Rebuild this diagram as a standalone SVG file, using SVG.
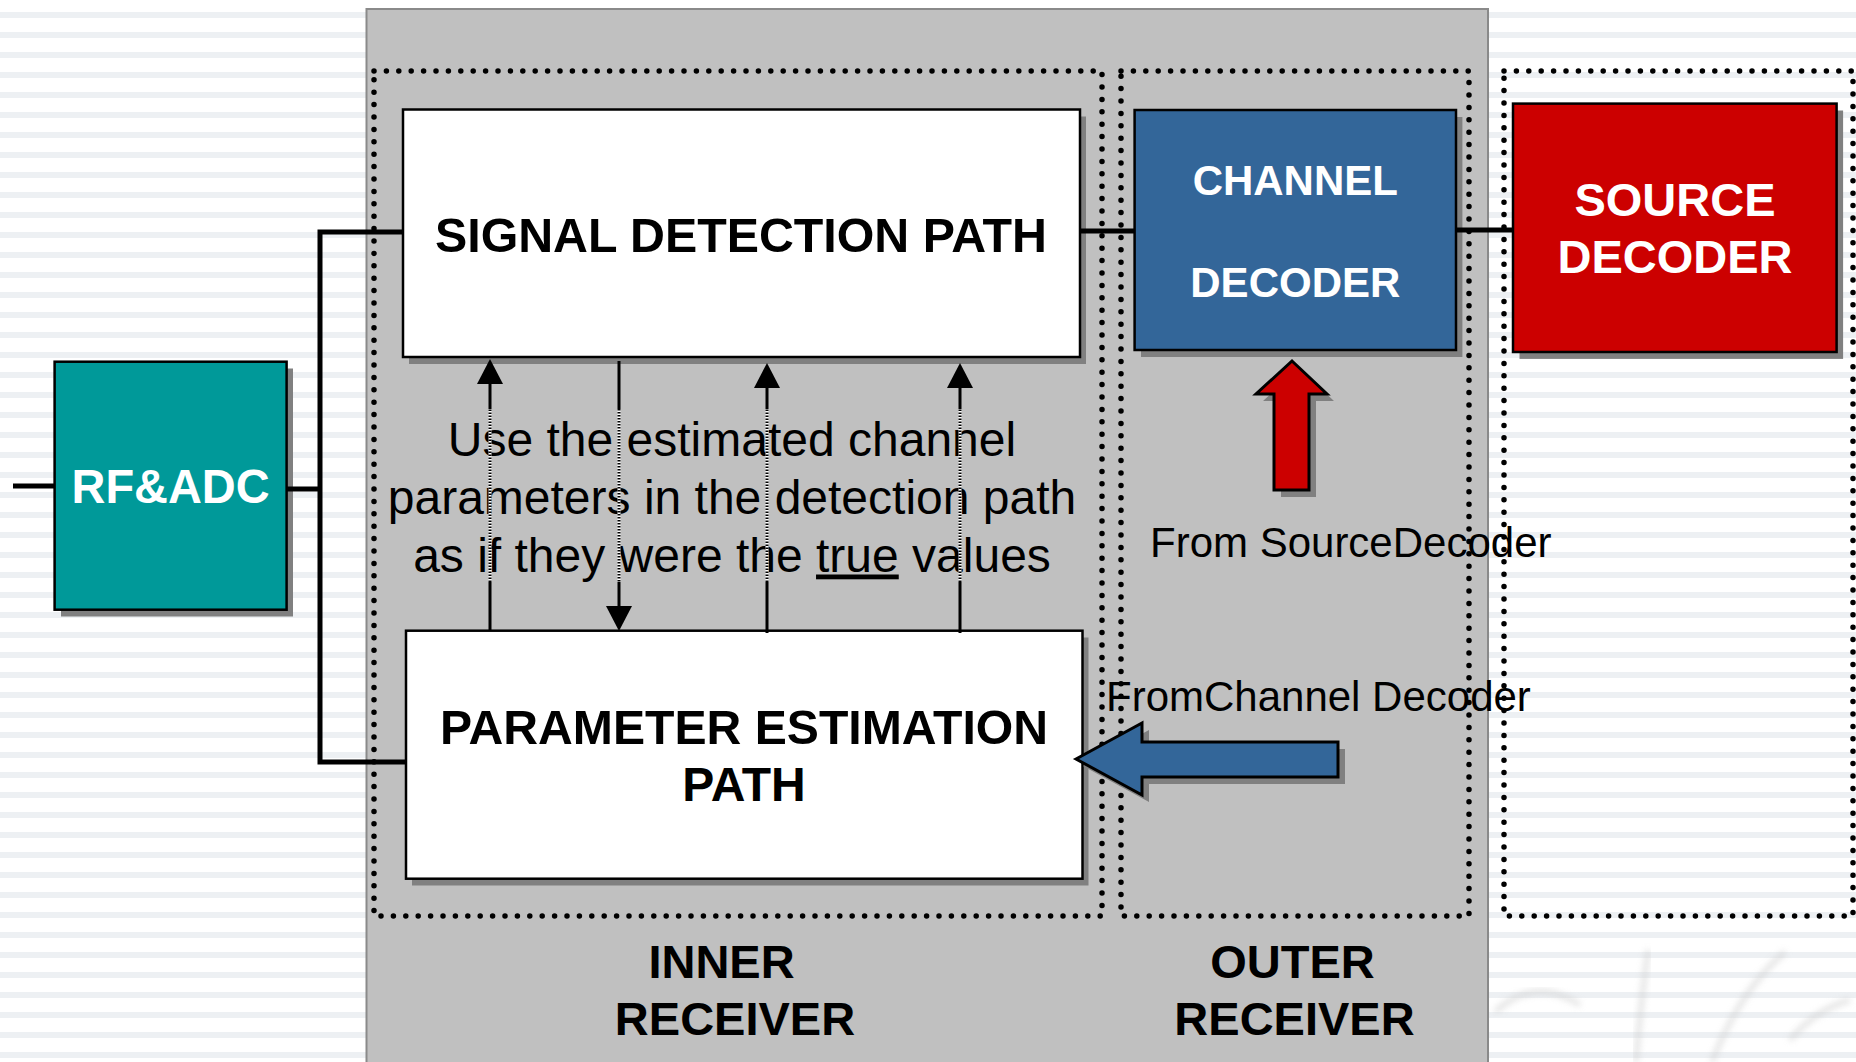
<svg xmlns="http://www.w3.org/2000/svg" width="1856" height="1062" viewBox="0 0 1856 1062">
<defs>
<pattern id="stripes" width="20" height="20" patternUnits="userSpaceOnUse">
<rect width="20" height="20" fill="#ffffff"/>
<rect y="12" width="20" height="6" fill="#edf0f3"/>
</pattern>
<marker id="ah" viewBox="0 0 25 26" refX="0" refY="13" markerWidth="25" markerHeight="26" markerUnits="userSpaceOnUse" orient="auto">
<path d="M0,0 L25,13 L0,26 z" fill="#000"/>
</marker>
<filter id="blur" x="-20%" y="-20%" width="140%" height="140%"><feGaussianBlur stdDeviation="3"/></filter>
</defs>
<style>
.t { font-family: "Liberation Sans", Arial, sans-serif; }
.b { font-weight: bold; }
.box { stroke: #000; stroke-width: 2.5; }
.shadow { fill: #808080; }
.dots { fill: none; stroke: #000; stroke-width: 5.5; stroke-dasharray: 0 12.4; stroke-linecap: round; }
.wire { stroke: #000; stroke-width: 5; fill: none; }
.arr { stroke: #000; stroke-width: 3; fill: none; }
.under { stroke: #ffffff; stroke-width: 3; }
.dash { stroke: #000; stroke-width: 3; stroke-dasharray: 1.5 1.5; }
.ghost { fill: none; stroke: #cfcfcf; stroke-width: 5; opacity: 0.6; filter: url(#blur); }
</style>

<!-- background -->
<rect x="0" y="0" width="1856" height="1062" fill="url(#stripes)"/>
<g id="watermark">
<path class="ghost" d="M1495,1012 Q1535,975 1580,1005"/>
<path class="ghost" d="M1648,950 Q1640,1010 1636,1062"/>
<path class="ghost" d="M1712,1062 Q1740,990 1785,952"/>
<path class="ghost" d="M1790,1040 Q1815,1010 1850,1000"/>
</g>

<!-- receiver panel -->
<rect id="receiver-panel" x="366.5" y="9" width="1121.5" height="1060" fill="#c0c0c0" stroke="#8a8a8a" stroke-width="2"/>

<!-- dotted groupings -->
<g id="groups">
<rect id="inner-receiver-box" class="dots" x="374" y="71" width="728" height="845"/>
<rect id="outer-receiver-box" class="dots" x="1121" y="71" width="348" height="845"/>
<rect id="source-box" class="dots" x="1504" y="71" width="349" height="845"/>
</g>

<!-- nodes -->
<g id="rf-adc">
<rect class="shadow" x="61" y="368.5" width="232" height="248"/>
<rect class="box" x="54.6" y="361.7" width="232" height="248" fill="#009999"/>
<text class="t b" x="170.6" y="502.5" font-size="48" fill="#ffffff" text-anchor="middle" textLength="198" lengthAdjust="spacingAndGlyphs">RF&amp;ADC</text>
</g>

<g id="signal-detection">
<rect class="shadow" x="409" y="116.5" width="677" height="247.5"/>
<rect class="box" x="403" y="109.5" width="677" height="247.5" fill="#ffffff"/>
<text class="t b" x="741" y="251.5" font-size="48" fill="#000" text-anchor="middle" textLength="612" lengthAdjust="spacingAndGlyphs">SIGNAL DETECTION PATH</text>
</g>

<g id="parameter-estimation">
<rect class="shadow" x="412" y="637.5" width="676.5" height="248"/>
<rect class="box" x="406" y="630.7" width="676.5" height="248" fill="#ffffff"/>
<text class="t b" x="744" y="743.5" font-size="48" fill="#000" text-anchor="middle" textLength="608" lengthAdjust="spacingAndGlyphs">PARAMETER ESTIMATION</text>
<text class="t b" x="744" y="800.5" font-size="48" fill="#000" text-anchor="middle">PATH</text>
</g>

<g id="channel-decoder">
<rect class="shadow" x="1141" y="117" width="321.4" height="240"/>
<rect class="box" x="1134.6" y="110" width="321.4" height="240" fill="#336699"/>
<text class="t b" x="1295.3" y="195" font-size="42" fill="#ffffff" text-anchor="middle">CHANNEL</text>
<text class="t b" x="1295.3" y="296.5" font-size="42" fill="#ffffff" text-anchor="middle">DECODER</text>
</g>

<g id="source-decoder">
<rect class="shadow" x="1519.5" y="110.5" width="323.6" height="248.4"/>
<rect class="box" x="1513" y="103.6" width="323.6" height="248.4" fill="#cc0000"/>
<text class="t b" x="1675" y="215.5" font-size="47" fill="#ffffff" text-anchor="middle">SOURCE</text>
<text class="t b" x="1675" y="273" font-size="47" fill="#ffffff" text-anchor="middle">DECODER</text>
</g>

<g id="from-source-arrow">
<polygon class="shadow" points="1299,368 1334,401 1316,401 1316,497 1281,497 1281,401 1263,401"/>
<polygon points="1292,361 1327,394 1309,394 1309,490 1274,490 1274,394 1256,394" fill="#cc0000" stroke="#000" stroke-width="3" stroke-linejoin="miter"/>
<text class="t" x="1150" y="557" font-size="42" fill="#000">From SourceDecoder</text>
</g>

<g id="from-channel-arrow">
<polygon class="shadow" points="1083,766 1149,730 1149,749 1345,749 1345,784 1149,784 1149,802"/>
<polygon points="1076,759 1142,723 1142,742 1338,742 1338,777 1142,777 1142,795" fill="#336699" stroke="#000" stroke-width="3"/>
<text class="t" x="1106" y="711" font-size="42" fill="#000">FromChannel Decoder</text>
</g>

<g id="note">
<text class="t" x="732" y="456" font-size="48" fill="#000" text-anchor="middle">Use the estimated channel</text>
<text class="t" x="732" y="513.5" font-size="48" fill="#000" text-anchor="middle">parameters in the detection path</text>
<text class="t" x="732" y="571.5" font-size="48" fill="#000" text-anchor="middle">as if they were the <tspan text-decoration="underline">true</tspan> values</text>
</g>

<g id="receiver-labels">
<text class="t b" x="721.5" y="978" font-size="47" fill="#000" text-anchor="middle">INNER</text>
<text class="t b" x="735" y="1035" font-size="47" fill="#000" text-anchor="middle">RECEIVER</text>
<text class="t b" x="1292.5" y="978" font-size="47" fill="#000" text-anchor="middle">OUTER</text>
<text class="t b" x="1294.5" y="1035" font-size="47" fill="#000" text-anchor="middle">RECEIVER</text>
</g>

<!-- connectors -->
<g id="connectors">
<line class="wire" x1="13" y1="486" x2="54.6" y2="486"/>
<line class="wire" x1="286.6" y1="489" x2="322" y2="489"/>
<polyline class="wire" points="403,232 320,232 320,762 406,762"/>
<line class="wire" x1="1080" y1="231" x2="1134.6" y2="231"/>
<line class="wire" x1="1456" y1="230" x2="1513" y2="230"/>

<g id="est-to-det-1">
<line class="arr" x1="490" y1="630.7" x2="490" y2="582"/>
<line class="under" x1="490" y1="582" x2="490" y2="409"/>
<line class="dash" x1="490" y1="582" x2="490" y2="409"/>
<line class="arr" x1="490" y1="409" x2="490" y2="384" marker-end="url(#ah)"/>
</g>
<g id="det-to-est">
<line class="arr" x1="619" y1="361" x2="619" y2="409"/>
<line class="under" x1="619" y1="409" x2="619" y2="582"/>
<line class="dash" x1="619" y1="409" x2="619" y2="582"/>
<line class="arr" x1="619" y1="582" x2="619" y2="606" marker-end="url(#ah)"/>
</g>
<g id="est-to-det-2">
<line class="arr" x1="767" y1="633" x2="767" y2="582"/>
<line class="under" x1="767" y1="582" x2="767" y2="409"/>
<line class="dash" x1="767" y1="582" x2="767" y2="409"/>
<line class="arr" x1="767" y1="409" x2="767" y2="388" marker-end="url(#ah)"/>
</g>
<g id="est-to-det-3">
<line class="arr" x1="960" y1="633" x2="960" y2="582"/>
<line class="under" x1="960" y1="582" x2="960" y2="409"/>
<line class="dash" x1="960" y1="582" x2="960" y2="409"/>
<line class="arr" x1="960" y1="409" x2="960" y2="388" marker-end="url(#ah)"/>
</g>
</g>
</svg>
